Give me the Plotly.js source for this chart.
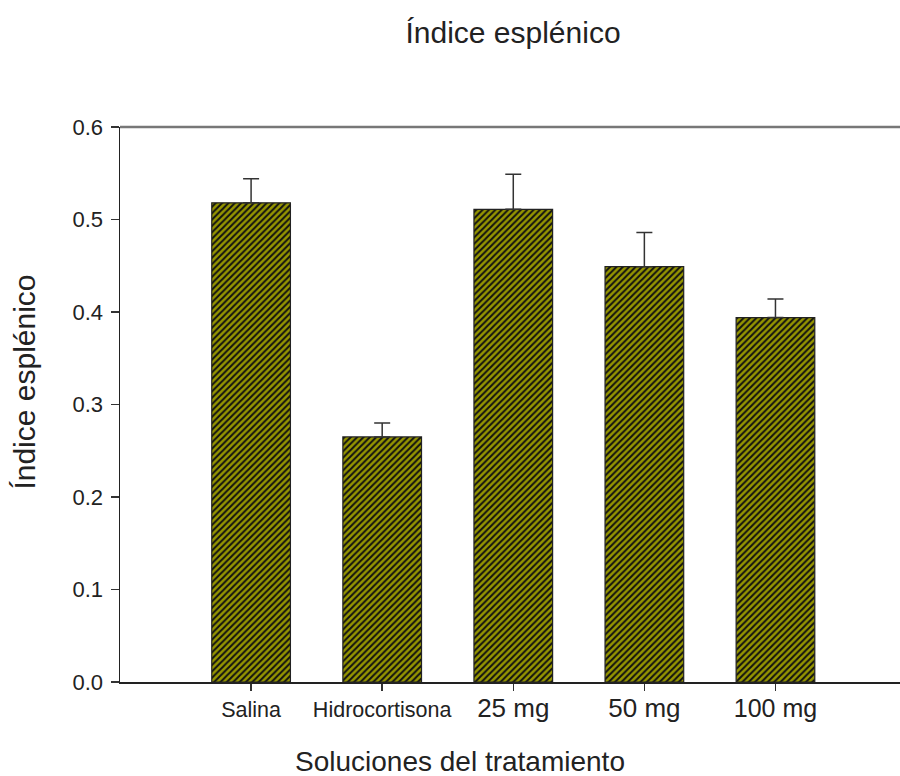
<!DOCTYPE html>
<html>
<head>
<meta charset="utf-8">
<script src="https://cdn.plot.ly/plotly-3.0.1.min.js"></script>
<style>body{margin:0;padding:0;background:#fff;}#chart{width:900px;height:776px;}</style>
</head>
<body>
<div id="chart"></div>
<script>
const categories = ["Salina", "Hidrocortisona", "25 mg", "50 mg", "100 mg"];
const values = [0.518, 0.265, 0.511, 0.449, 0.394];
const errors = [0.026, 0.015, 0.038, 0.037, 0.020];
const yTickVals = [0, 0.1, 0.2, 0.3, 0.4, 0.5, 0.6];
const yTickText = ["0.0", "0.1", "0.2", "0.3", "0.4", "0.5", "0.6"];
const tickSizes = [21.5, 21.5, 26, 26, 25];
const chartTitle = "Índice esplénico";
const xTitle = "Soluciones del tratamiento";
const yTitle = "Índice esplénico";

const FONT = "Liberation Sans, Arial, sans-serif";

const trace = {
  type: "bar",
  x: categories,
  y: values,
  width: 0.6,
  marker: {
    color: "#969600",
    line: {color: "#222", width: 1.2},
    pattern: {shape: "/", fgcolor: "#111", bgcolor: "#969600", size: 4.5, solidity: 0.45}
  },
  error_y: {
    type: "data", array: errors, arrayminus: errors.map(() => 0), symmetric: false,
    visible: true, color: "#333", thickness: 1.5, width: 8
  },
  hoverinfo: "skip"
};

const layout = {
  width: 900, height: 776,
  margin: {l: 120, r: 0, t: 127, b: 94},
  paper_bgcolor: "#fff", plot_bgcolor: "#fff",
  showlegend: false,
  title: {text: chartTitle, x: 0.57, xanchor: "center", y: 0.958, yanchor: "middle",
          font: {family: FONT, size: 30, color: "#222"}},
  xaxis: {
    type: "category", range: [-1.0, 4.95],
    tickvals: categories,
    ticktext: categories.map((c, i) => '<span style="font-size:' + tickSizes[i] + 'px">' + c + '</span>'),
    showline: true, linecolor: "#222", linewidth: 1.5,
    ticks: "outside", ticklen: 7, tickcolor: "#333", tickwidth: 1.5,
    showgrid: false, zeroline: false,
    tickfont: {family: FONT, size: 22, color: "#222"}
  },
  yaxis: {
    range: [0, 0.6],
    tickvals: yTickVals, ticktext: yTickText,
    showline: true, linecolor: "#222", linewidth: 1.5,
    ticks: "outside", ticklen: 8, tickcolor: "#333", tickwidth: 1.5,
    ticklabelstandoff: 3,
    showgrid: false, zeroline: false,
    tickfont: {family: FONT, size: 22, color: "#222"}
  },
  annotations: [
    {text: xTitle, xref: "paper", yref: "paper", x: 0.436, y: -0.144,
     xanchor: "center", yanchor: "middle", showarrow: false,
     font: {family: FONT, size: 28, color: "#222"}},
    {text: yTitle, xref: "paper", yref: "paper", x: -0.122, y: 0.541,
     xanchor: "center", yanchor: "middle", showarrow: false, textangle: -90,
     font: {family: FONT, size: 30, color: "#222"}}
  ],
  shapes: [
    {type: "line", xref: "paper", yref: "paper", x0: 0, x1: 1, y0: 1, y1: 1,
     line: {color: "#777", width: 2.5}}
  ]
};

Plotly.newPlot("chart", [trace], layout, {displayModeBar: false, staticPlot: true});
</script>
</body>
</html>
